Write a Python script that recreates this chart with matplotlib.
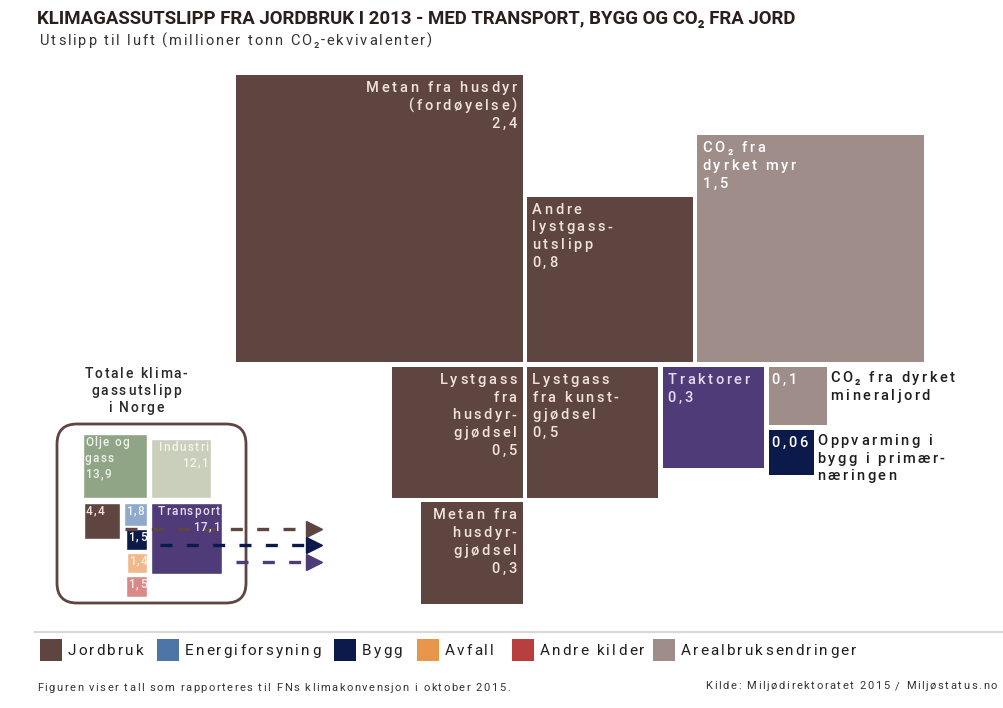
import numpy as np
import matplotlib.pyplot as plt
from matplotlib.patches import Rectangle, FancyBboxPatch
from matplotlib.font_manager import FontProperties, findfont, get_font

# ---------------- data ----------------
# hovedfigur: jordbruk m.m. (mill. tonn CO2-ekv.)
main_names = ["Metan fra husdyr\n(fordøyelse)", "Andre\nlystgass-\nutslipp", "CO\u2082 fra\ndyrket myr",
              "Lystgass\nfra\nhusdyr-\ngjødsel", "Lystgass\nfra kunst-\ngjødsel", "Traktorer",
              "", "", "Metan fra\nhusdyr-\ngjødsel"]
main_values = [2.4, 0.8, 1.5, 0.5, 0.5, 0.3, 0.1, 0.06, 0.3]
main_groups = ["jord", "jord", "areal", "jord", "jord", "transport", "areal", "bygg", "jord"]

# totale utslipp i Norge
norge_names = ["Olje og\ngass", "Industri", "", "", "", "", "", "Transport"]
norge_values = [13.9, 12.1, 4.4, 1.8, 1.5, 1.4, 1.5, 17.1]
norge_groups = ["olje", "industri", "jord", "energi_l", "bygg", "avfall_l", "andre_l", "transport"]

legend_labels = ["Jordbruk", "Energiforsyning", "Bygg", "Avfall", "Andre kilder", "Arealbruksendringer"]
legend_groups = ["jord", "energi", "bygg", "avfall", "andre", "areal"]

colors = {
    "jord": "#5e4540", "areal": "#9e8d88", "transport": "#4f3b78", "bygg": "#0b1a4b",
    "energi": "#4d76a6", "avfall": "#e8964a", "andre": "#b83f3e",
    "energi_l": "#8fa9cc", "avfall_l": "#f1b98a", "andre_l": "#d98a88",
    "olje": "#8fa585", "industri": "#c9cfbb",
}
txtcol = {"jord": "#f0e2de", "areal": "#ffffff", "transport": "#e4dcf2", "bygg": "#ffffff",
          "olje": "#eef2ea", "industri": "#f3f4ee", "energi_l": "#eef3fa",
          "avfall_l": "#fdf0e4", "andre_l": "#fbeceb"}


def fmt(v):
    return ("%g" % v).replace(".", ",")


fig = plt.figure(figsize=(10.04, 7.08), dpi=100)
ax = fig.add_axes([0, 0, 1, 1])
ax.set_xlim(0, 1004)
ax.set_ylim(708, 0)
ax.axis("off")

FAM = ["Roboto", "DejaVu Sans"]


def ttext(x, y, s, size, color, ha="left", track=2.0, step=17.8, weight="medium"):
    # tekst med ekstra bokstavavstand, y = grunnlinje for første linje
    prop = FontProperties(family=FAM, size=size, weight=weight)
    font = get_font(findfont(FontProperties(family="Roboto", weight=weight)))
    font.set_size(size, 100)
    for j, line in enumerate(s.split("\n")):
        adv = [font.load_char(ord(c)).linearHoriAdvance / 65536 for c in line]
        total = sum(adv) + track * (len(line) - 1)
        if ha == "left":
            x0 = x
        elif ha == "right":
            x0 = x - total
        else:
            x0 = x - total / 2
        for c, a in zip(line, adv):
            if c != " ":
                ax.text(x0, y + j * step, c, fontproperties=prop, color=color,
                        ha="left", va="baseline")
            x0 += a + track


def sq(x, y, s, col, ec="none"):
    ax.add_patch(Rectangle((x, y), s, s, facecolor=col, edgecolor=ec, lw=1))


# ---------------- hovedfigur ----------------
k = 287 / np.sqrt(2.4)   # px per sqrt(enhet)
gap = 4.5
S = [k * np.sqrt(v) for v in main_values]
xm = 525.0   # midtlinje
yb = 364.5   # grunnlinje

pos = [None] * 9
pos[0] = (xm - gap / 2 - S[0], yb - gap / 2 - S[0])
pos[1] = (xm + gap / 2, yb - gap / 2 - S[1])
pos[2] = (pos[1][0] + S[1] + gap, yb - gap / 2 - S[2])
pos[3] = (xm - gap / 2 - S[3], yb + gap / 2)
pos[4] = (xm + gap / 2, yb + gap / 2)
pos[5] = (pos[4][0] + S[4] + gap, yb + gap / 2)
pos[6] = (pos[5][0] + S[5] + gap, yb + gap / 2)
pos[7] = (pos[6][0], pos[6][1] + S[6] + gap)
pos[8] = (xm - gap / 2 - S[8], pos[3][1] + S[3] + gap)

align = ["right", "left", "left", "right", "left", "left", "left", "left", "right"]

for i, v in enumerate(main_values):
    x, y = pos[i]
    g = main_groups[i]
    sq(x, y, S[i], colors[g])
    lab = main_names[i] + "\n" + fmt(v) if main_names[i] else fmt(v)
    if align[i] == "right":
        tx = x + S[i] - 6
    else:
        tx = x + 3 if i >= 6 else x + 5
    ttext(tx, y + 17, lab, 10.5, txtcol[g], ha=align[i], track=2.6)

# tekster utenfor små ruter
ttext(pos[6][0] + S[6] + 3, pos[6][1] + 15, "CO\u2082 fra dyrket\nmineraljord", 10.5, "#1e1e1e", track=2.5)
ttext(pos[7][0] + S[7] + 3, pos[7][1] + 15, "Oppvarming i\nbygg i primær-\nnæringen", 10.5, "#1e1e1e", track=2.5)

# ---------------- Norge totalt ----------------
kn = 64 / np.sqrt(13.9)
gn = 4.5
Sn = [kn * np.sqrt(v) for v in norge_values]
xl, yn = 83.0, 500.5
xr = xl + Sn[0]
npos = [None] * 8
npos[0] = (xl, yn - gn / 2 - Sn[0])
npos[1] = (xr + gn, yn - gn / 2 - Sn[1])
npos[2] = (xl + 1, yn + gn / 2)
npos[3] = (xr - Sn[3], yn + gn / 2)
npos[4] = (xr - Sn[4], npos[3][1] + Sn[3] + 3)
npos[5] = (xr - Sn[5], npos[4][1] + Sn[4] + 3)
npos[6] = (xr - Sn[6], npos[5][1] + Sn[5] + 3)
npos[7] = (xr + gn, yn + gn / 2)

ax.add_patch(FancyBboxPatch((57, 424), 189, 179, boxstyle="round,pad=0,rounding_size=20",
                            facecolor="none", edgecolor="#5e4540", lw=2))

for i, v in enumerate(norge_values):
    x, y = npos[i]
    g = norge_groups[i]
    sq(x, y, Sn[i], colors[g], ec="white")
    lab = norge_names[i] + "\n" + fmt(v) if norge_names[i] else fmt(v)
    tc = txtcol.get(g, "#ecdcd6")
    if i in (1, 7):
        ttext(x + Sn[i] - 3, y + 12, lab, 8.5, tc, ha="right", track=1.3, step=16)
    else:
        ttext(x + 2, y + 12, lab, 8.5, tc, track=1.3, step=16)

ttext(136, 378, "Totale klima-\ngassutslipp\ni Norge", 10, "#2a2a2a", ha="center", track=1.8, step=17)

# piler
arrows = [(125, 529, "#5e4540"), (160, 545, "#0b1a4b"), (236, 562, "#4f3b78")]
for x0, y0, c in arrows:
    ax.plot([x0, 306], [y0, y0], color=c, lw=2.4, dashes=(3.6, 4.3))
    ax.plot([314], [y0], marker=">", ms=11, color=c, mec=c)

# ---------------- tittel ----------------
ax.text(37, 19, "KLIMAGASSUTSLIPP FRA JORDBRUK I 2013 - MED TRANSPORT, BYGG OG CO\u2082 FRA JORD",
        ha="left", va="center", fontsize=13.4, fontweight="bold", color="#2a1f1c", family=FAM)
ttext(40, 45, "Utslipp til luft (millioner tonn CO\u2082-ekvivalenter)", 10.5, "#333333",
      track=1.9, weight="normal")

# ---------------- tegnforklaring ----------------
ax.plot([35, 1004], [632, 632], color="#d8d8d8", lw=1.5)
leg_x = [40, 157, 334, 417, 512, 653]
for lx, lab, g in zip(leg_x, legend_labels, legend_groups):
    ax.add_patch(Rectangle((lx, 639), 22, 22, facecolor=colors[g], edgecolor="none"))
    ttext(lx + 28, 655, lab, 11, "#1e1e1e", track=2.1, weight="normal")

ttext(37, 691, "Figuren viser tall som rapporteres til FNs klimakonvensjon i oktober 2015.",
      8, "#333333", track=1.5, weight="normal")
ttext(997, 689, "Kilde: Miljødirektoratet 2015 / Miljøstatus.no", 8, "#333333", ha="right",
      track=1.6, weight="normal")

fig.savefig("out.png", dpi=100)
